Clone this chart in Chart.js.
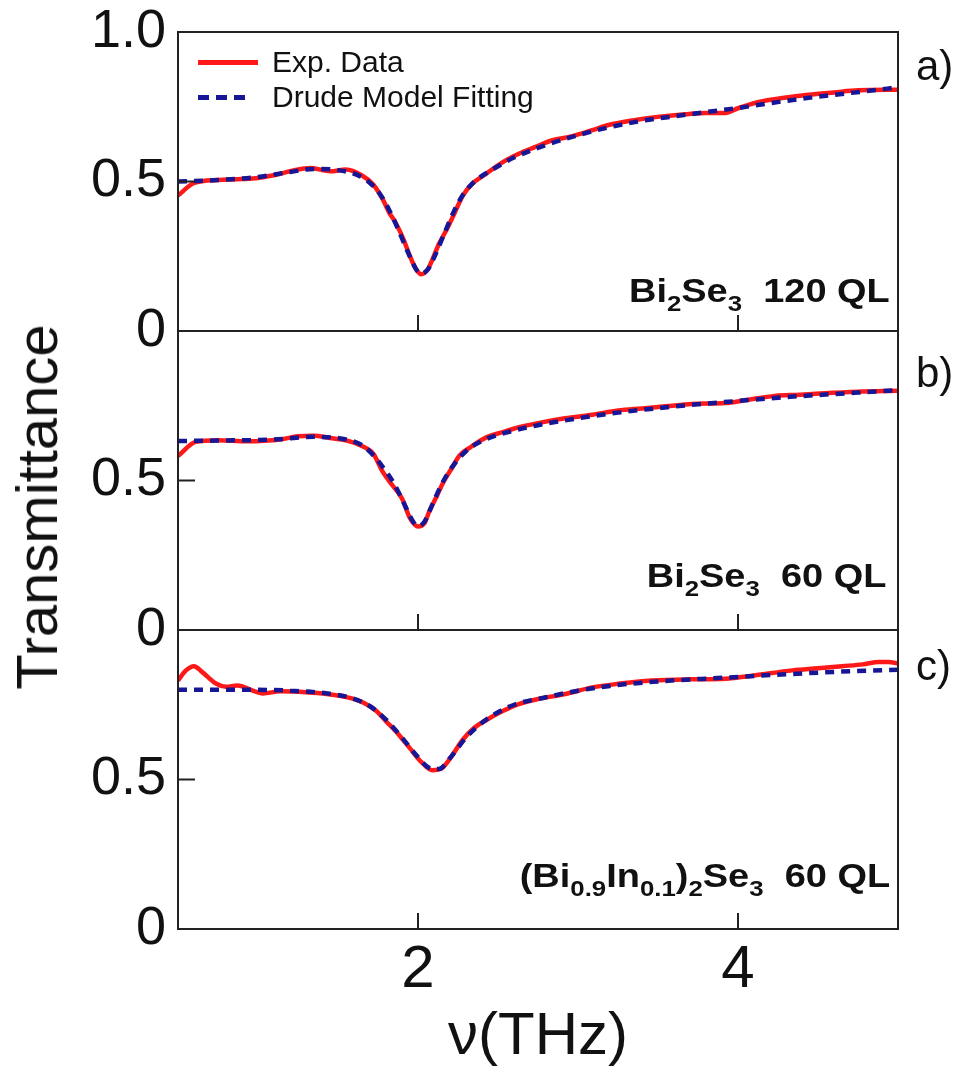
<!DOCTYPE html>
<html>
<head>
<meta charset="utf-8">
<script src="https://cdn.jsdelivr.net/npm/chart.js@4.4.0/dist/chart.umd.min.js"></script>
<style>
  body { margin: 0; background: #fff; }
  #wrap { position: relative; width: 961px; height: 1073px; font-family: "Liberation Sans", Arial, sans-serif; color: #111; }
  #myChart { position: absolute; left: 0; top: 0; }
  .note { position: absolute; line-height: 1; white-space: nowrap; }
  .sample { font-weight: bold; font-size: 33px; transform: scaleX(1.15); transform-origin: right center; }
  .sample sub { font-size: 0.68em; vertical-align: -0.38em; line-height: 0; }
  .panel { font-size: 42px; }
  .leg { font-size: 30px; }
  .key { position: absolute; }
</style>
</head>
<body>
<div id="wrap">
  <canvas id="myChart" width="961" height="1073"></canvas>

  <div class="key" style="left:198px; top:59.5px; width:60px; height:5px; background:rgb(255,24,24);"></div>
  <div class="key" style="left:198px; top:95px; width:49px; height:4.5px; background:repeating-linear-gradient(to right, rgb(22,22,150) 0 11px, transparent 11px 18px);"></div>
  <div class="note leg" style="left:272px; top:46.6px;">Exp. Data</div>
  <div class="note leg" style="left:272px; top:81.6px;">Drude Model Fitting</div>

  <div class="note panel" style="left:916px; top:44.5px;">a)</div>
  <div class="note panel" style="left:916px; top:351.5px;">b)</div>
  <div class="note panel" style="left:916px; top:644.5px;">c)</div>

  <div class="note sample" style="right:71px; top:274px;">Bi<sub>2</sub>Se<sub>3</sub>&nbsp;&nbsp;120 QL</div>
  <div class="note sample" style="right:75px; top:559px;">Bi<sub>2</sub>Se<sub>3</sub>&nbsp;&nbsp;60 QL</div>
  <div class="note sample" style="right:71px; top:859px;">(Bi<sub>0.9</sub>In<sub>0.1</sub>)<sub>2</sub>Se<sub>3</sub>&nbsp;&nbsp;60 QL</div>

  <div class="note" style="left:37px; top:507px; font-size:58px; transform:translate(-50%,-50%) rotate(-90deg);">Transmittance</div>
</div>

<script>
const myChartObject = document.getElementById('myChart');

// x ticks (THz)
const xTicks = [2, 4];

// a) Bi2Se3 120 QL
const freqA = [0.5, 0.6, 0.75, 0.9, 1.0, 1.14, 1.22, 1.33, 1.45, 1.55, 1.65, 1.72, 1.78, 1.82, 1.86, 1.91, 1.95, 1.99, 2.02, 2.06,
               2.09, 2.13, 2.18, 2.23, 2.28, 2.34, 2.41, 2.53, 2.63, 2.73, 2.84, 2.95, 3.09, 3.19, 3.36, 3.51, 3.67, 3.8, 3.92, 4.0,
               4.13, 4.29, 4.44, 4.6, 4.75, 5.0];
const expA = [0.453, 0.495, 0.505, 0.508, 0.512, 0.526, 0.537, 0.545, 0.534, 0.54, 0.52, 0.49, 0.44, 0.396, 0.362, 0.306, 0.25, 0.205, 0.19, 0.205,
              0.239, 0.29, 0.34, 0.396, 0.453, 0.493, 0.52, 0.565, 0.593, 0.615, 0.638, 0.65, 0.672, 0.689, 0.706, 0.717, 0.725, 0.729, 0.729, 0.745,
              0.766, 0.78, 0.79, 0.798, 0.805, 0.807];
const fitFreqA = [0.5, 0.75, 1.0, 1.2, 1.35, 1.5, 1.62, 1.7, 1.76, 1.82, 1.88, 1.94, 1.99, 2.02, 2.06, 2.1, 2.16, 2.22, 2.28, 2.36,
                  2.45, 2.6, 2.8, 3.0, 3.2, 3.4, 3.6, 3.8, 4.0, 4.2, 4.4, 4.6, 4.8, 5.0];
const fitA = [0.50, 0.505, 0.515, 0.532, 0.542, 0.538, 0.522, 0.495, 0.46, 0.405, 0.335, 0.26, 0.205, 0.192, 0.205, 0.245, 0.32, 0.395, 0.455, 0.503,
              0.535, 0.58, 0.622, 0.655, 0.682, 0.703, 0.718, 0.732, 0.746, 0.762, 0.777, 0.79, 0.802, 0.815];

// b) Bi2Se3 60 QL
const freqB = [0.5, 0.61, 0.75, 0.93, 1.14, 1.25, 1.35, 1.45, 1.55, 1.65, 1.72, 1.78, 1.84, 1.9, 1.95, 2.0, 2.04, 2.07, 2.12, 2.16,
               2.21, 2.26, 2.33, 2.43, 2.53, 2.63, 2.75, 2.92, 3.09, 3.25, 3.4, 3.55, 3.71, 3.92, 4.05, 4.23, 4.39, 4.54, 4.75, 5.0];
const expB = [0.582, 0.629, 0.635, 0.631, 0.637, 0.648, 0.65, 0.642, 0.634, 0.615, 0.59, 0.529, 0.484, 0.44, 0.374, 0.346, 0.357, 0.396, 0.451, 0.496,
              0.54, 0.584, 0.612, 0.645, 0.662, 0.678, 0.692, 0.708, 0.72, 0.734, 0.741, 0.748, 0.756, 0.759, 0.769, 0.783, 0.787, 0.792, 0.797, 0.80];
const fitFreqB = [0.5, 0.8, 1.1, 1.35, 1.55, 1.65, 1.72, 1.78, 1.85, 1.92, 1.97, 2.0, 2.04, 2.09, 2.15, 2.22, 2.3, 2.4, 2.55, 2.75,
                  3.0, 3.25, 3.5, 3.75, 4.0, 4.25, 4.5, 4.75, 5.0];
const fitB = [0.632, 0.634, 0.637, 0.646, 0.637, 0.618, 0.585, 0.545, 0.49, 0.415, 0.362, 0.348, 0.362, 0.42, 0.49, 0.55, 0.598, 0.632, 0.66, 0.685,
              0.708, 0.727, 0.742, 0.755, 0.766, 0.777, 0.786, 0.794, 0.802];

// c) (Bi0.9In0.1)2Se3 60 QL
const freqC = [0.5, 0.55, 0.6, 0.65, 0.74, 0.8, 0.87, 0.98, 1.03, 1.14, 1.3, 1.43, 1.58, 1.66, 1.74, 1.8, 1.88, 1.95, 2.02, 2.09,
               2.15, 2.2, 2.28, 2.35, 2.43, 2.53, 2.63, 2.75, 2.92, 3.09, 3.25, 3.46, 3.7, 3.92, 4.1, 4.34, 4.5, 4.65, 4.78, 4.88,
               4.94, 5.0];
const expC = [0.831, 0.865, 0.879, 0.86, 0.82, 0.81, 0.814, 0.795, 0.788, 0.795, 0.792, 0.786, 0.772, 0.757, 0.729, 0.695, 0.65, 0.604, 0.559, 0.531,
              0.538, 0.57, 0.633, 0.672, 0.70, 0.729, 0.752, 0.769, 0.786, 0.808, 0.82, 0.831, 0.835, 0.837, 0.848, 0.865, 0.872, 0.879, 0.885, 0.893,
              0.893, 0.888];
const fitFreqC = [0.5, 0.8, 1.0, 1.2, 1.43, 1.6, 1.7, 1.8, 1.9, 2.0, 2.08, 2.13, 2.2, 2.3, 2.4, 2.5, 2.6, 2.8, 3.0, 3.2,
                  3.5, 3.9, 4.3, 4.7, 5.0];
const fitC = [0.80, 0.80, 0.80, 0.797, 0.788, 0.77, 0.745, 0.70, 0.64, 0.575, 0.537, 0.535, 0.572, 0.64, 0.69, 0.725, 0.75, 0.775, 0.797, 0.813,
              0.828, 0.84, 0.852, 0.862, 0.867];

const red = 'rgb(255,24,24)';
const blue = 'rgb(22,22,150)';
const fontFamily = '"Liberation Sans", Arial, sans-serif';

const pairs = (xs, ys) => xs.map((x, i) => ({x: x, y: ys[i]}));

function expSet(xs, ys, axis) {
  return {
    label: 'Exp. Data', data: pairs(xs, ys), yAxisID: axis,
    borderColor: red, backgroundColor: red, borderWidth: 4.5,
    pointRadius: 0, cubicInterpolationMode: 'monotone', order: 2
  };
}

function fitSet(xs, ys, axis) {
  return {
    label: 'Drude Model Fitting', data: pairs(xs, ys), yAxisID: axis,
    borderColor: blue, backgroundColor: blue, borderWidth: 4.5, borderDash: [9, 7],
    pointRadius: 0, cubicInterpolationMode: 'monotone', order: 1
  };
}

function panelAxis(weight, tickVals) {
  return {
    type: 'linear', position: 'left', stack: 'panels', stackWeight: 1, weight: weight,
    min: 0, max: 1,
    grid: {display: false, drawTicks: false},
    border: {display: false},
    afterBuildTicks: s => { s.ticks = tickVals.map(v => ({value: v})); },
    afterFit: s => { s.width = 178; s.paddingTop = 0; s.paddingBottom = 0; },
    ticks: {
      font: {family: fontFamily, size: 54}, color: '#111', padding: 12, autoSkip: false,
      callback: v => v === 0 ? '0' : v.toFixed(1)
    }
  };
}

// box round each panel, inward ticks
const panelFrames = {
  id: 'panelFrames',
  afterDatasetsDraw(chart) {
    const ctx = chart.ctx;
    const area = chart.chartArea;
    const xs = chart.scales.x;
    ctx.save();
    ctx.strokeStyle = '#222';
    ctx.lineWidth = 2;
    ['ya', 'yb', 'yc'].forEach(id => {
      const s = chart.scales[id];
      ctx.strokeRect(area.left, s.top, area.right - area.left, s.bottom - s.top);
      ctx.beginPath();
      xTicks.forEach(v => {
        const px = xs.getPixelForValue(v);
        ctx.moveTo(px, s.bottom);
        ctx.lineTo(px, s.bottom - 16);
      });
      const py = s.getPixelForValue(0.5);
      ctx.moveTo(area.left, py);
      ctx.lineTo(area.left + 17, py);
      ctx.stroke();
    });
    ctx.restore();
  }
};

const cfg = {
  type: 'line',
  data: {
    datasets: [
      expSet(freqA, expA, 'ya'), fitSet(fitFreqA, fitA, 'ya'),
      expSet(freqB, expB, 'yb'), fitSet(fitFreqB, fitB, 'yb'),
      expSet(freqC, expC, 'yc'), fitSet(fitFreqC, fitC, 'yc')
    ]
  },
  options: {
    responsive: false,
    devicePixelRatio: 1,
    animation: false,
    layout: {padding: {top: 32, right: 63, left: 0, bottom: 0}},
    plugins: {legend: {display: false}, tooltip: {enabled: false}},
    scales: {
      x: {
        type: 'linear', position: 'bottom', min: 0.5, max: 5,
        grid: {display: false, drawTicks: false},
        border: {display: false},
        afterBuildTicks: s => { s.ticks = xTicks.map(v => ({value: v})); },
        afterFit: s => { s.height = 144; },
        ticks: {font: {family: fontFamily, size: 60}, color: '#111', padding: 5, maxRotation: 0},
        title: {display: true, text: 'ν(THz)', font: {family: fontFamily, size: 60}, color: '#111', padding: {top: 0, bottom: 0}}
      },
      ya: panelAxis(3, [0, 0.5, 1]),
      yb: panelAxis(2, [0, 0.5]),
      yc: panelAxis(1, [0, 0.5])
    }
  },
  plugins: [panelFrames]
};

let chart = new Chart(myChartObject, cfg);
</script>
</body>
</html>
